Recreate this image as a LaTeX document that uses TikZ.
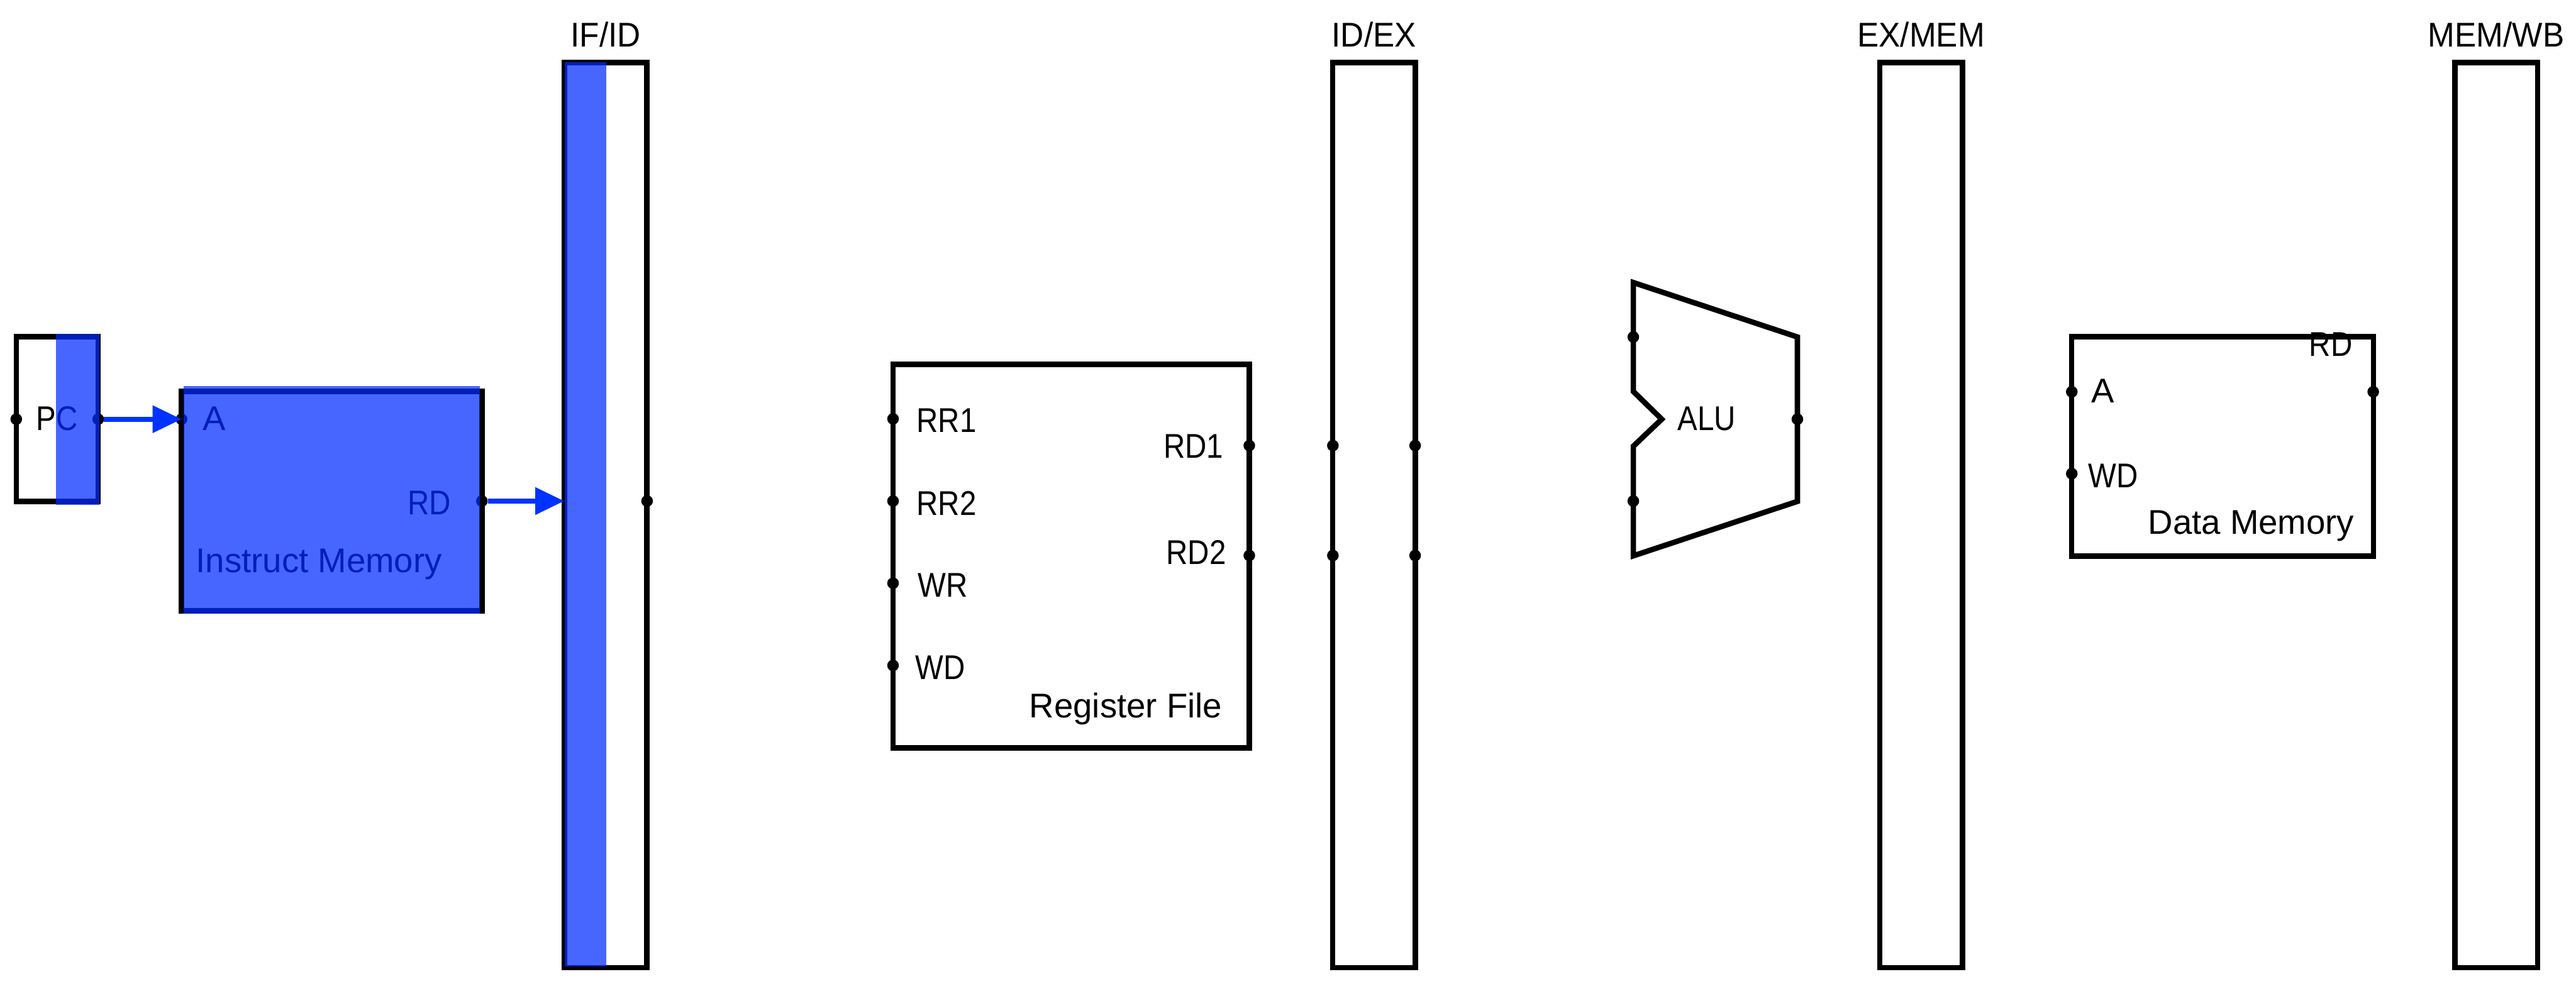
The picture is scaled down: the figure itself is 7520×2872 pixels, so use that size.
\documentclass[tikz,border=0pt]{standalone}
\usepackage{fontspec}
\setmainfont{Liberation Sans}
\newfontfamily\capsfont{Liberation Sans}[FakeStretch=0.87]
\newfontfamily\titlefont{Liberation Sans}[FakeStretch=0.94]
\usetikzlibrary{arrows.meta}
\definecolor{hlblue}{RGB}{0,43,255}
\definecolor{arrblue}{RGB}{0,51,255}
\begin{document}
\begin{tikzpicture}[x=0.01cm,y=-0.01cm,
  blk/.style={draw=black, line width=4.5pt, fill=none, inner sep=0pt, outer sep=0pt, line join=miter},
  reg/.style={blk, rectangle, minimum width=2.41cm, minimum height=26.41cm},
  dotp/.style={circle, fill=black, inner sep=0pt, outer sep=0pt, minimum size=0.34cm},
  lbl/.style={inner sep=0pt, outer sep=0pt, font=\fontsize{28.5}{34}\selectfont},
  caplbl/.style={inner sep=0pt, outer sep=0pt, font=\capsfont\fontsize{28.5}{34}\selectfont},
  ttl/.style={inner sep=0pt, outer sep=0pt, font=\titlefont\fontsize{28.5}{34}\selectfont},
  hl/.style={fill=hlblue, fill opacity=0.72, draw=none},
  arr/.style={draw=arrblue, line width=4pt, -{Triangle[length=24pt,width=22pt]}}
]
\useasboundingbox (0,0) rectangle (7520,2872);

% ---------- pipeline registers ----------
\node[reg] (ifid)  at (1768,1504) {};
\node[reg] (idex)  at (4011,1504) {};
\node[reg] (exmem) at (5608,1504) {};
\node[reg] (memwb) at (7287,1504) {};
\node[ttl, anchor=base] (ifidT)  at (1768,137) {IF/ID};
\node[ttl, anchor=base] (idexT)  at (4011,137) {ID/EX};
\node[ttl, anchor=base] (exmemT) at (5608,137) {EX/MEM};
\node[ttl, anchor=base] (memwbT) at (7287,137) {MEM/WB};

% ---------- PC ----------
\node[blk, rectangle, minimum width=2.39cm, minimum height=4.81cm] (pc) at (167,1224) {};
\node[caplbl, anchor=base] (pcT) at (167,1256) {PC};
\node[dotp] (pcin)  at (pc.west) {};
\node[dotp] (pcout) at (pc.east) {};

% ---------- Instruction memory ----------
\node[blk, rectangle, minimum width=8.77cm, minimum height=6.41cm] (im) at (968,1463) {};
\node[lbl, anchor=base west] (imA) at (593,1256) {A};
\node[caplbl, anchor=base east] (imRD) at (1316,1503) {RD};
\node[lbl, anchor=base west] (imT) at (572,1672) {Instruct Memory};
\node[dotp] (imAin)  at (530,1224) {};
\node[dotp] (imRDout) at (im.east) {};

% ---------- Register file ----------
\node[blk, rectangle, minimum width=10.40cm, minimum height=11.20cm] (rf) at (3127,1624) {};
\node[caplbl, anchor=base west] (rr1T) at (2676,1263) {RR1};
\node[caplbl, anchor=base west] (rr2T) at (2676,1504) {RR2};
\node[caplbl, anchor=base west] (wrT)  at (2680,1743) {WR};
\node[caplbl, anchor=base west] (wdT)  at (2672,1983) {WD};
\node[caplbl, anchor=base east] (rd1T) at (3571,1337) {RD1};
\node[caplbl, anchor=base east] (rd2T) at (3579,1648) {RD2};
\node[lbl, anchor=base west] (rfT) at (3005,2096) {Register File};
\node[dotp] (rr1) at (2607,1223) {};
\node[dotp] (rr2) at (2607,1463) {};
\node[dotp] (wr)  at (2607,1703) {};
\node[dotp] (wd)  at (2607,1943) {};
\node[dotp] (rd1) at (3647,1301) {};
\node[dotp] (rd2) at (3647,1622) {};

% ---------- ID/EX ports ----------
\node[dotp] (idexL1) at (3891,1301) {};
\node[dotp] (idexL2) at (3891,1622) {};
\node[dotp] (idexR1) at (4131,1301) {};
\node[dotp] (idexR2) at (4131,1622) {};

% ---------- ALU ----------
\coordinate (aluTL) at (4768,825);
\coordinate (aluTR) at (5247,984);
\coordinate (aluBR) at (5247,1464);
\coordinate (aluBL) at (4768,1623);
\coordinate (aluN1) at (4768,1303);
\coordinate (aluNA) at (4851,1224);
\coordinate (aluN2) at (4768,1143);
\draw[blk] (aluTL) -- (aluTR) -- (aluBR) -- (aluBL) -- (aluN1) -- (aluNA) -- (aluN2) -- cycle;
\node[caplbl, anchor=base west] (aluT) at (4897,1256) {ALU};
\node[dotp] (aluA) at (4768,984) {};
\node[dotp] (aluB) at (4768,1463) {};
\node[dotp] (aluY) at (5247,1224) {};

% ---------- Data memory ----------
\node[blk, rectangle, minimum width=8.81cm, minimum height=6.40cm] (dm) at (6488,1303.5) {};
\node[lbl, anchor=base west] (dmA) at (6105,1176) {A};
\node[caplbl, anchor=base west] (dmWD) at (6096,1424) {WD};
\node[caplbl, anchor=base east] (dmRD) at (6867,1040) {RD};
\node[lbl, anchor=base west] (dmT) at (6271,1560) {Data Memory};
\node[dotp] (dmAin)  at (6048,1144) {};
\node[dotp] (dmWDin) at (6048,1383) {};
\node[dotp] (dmRDout) at (6928,1144) {};

% ---------- IF/ID ports ----------
\node[dotp] (ifidR) at (1889,1463) {};
\coordinate (ifidL) at (1647,1463);

% ---------- highlight overlays ----------
\fill[hl] (164,975) rectangle (290,1474);
\fill[hl] (537,1127) rectangle (1400,1791);
\fill[hl] (1649,182) rectangle (1769,2822);

% ---------- connectors ----------
\draw[arr] (pcout) -- (imAin.center);
\draw[arr] (imRDout) -- (ifidL);
\end{tikzpicture}
\end{document}
